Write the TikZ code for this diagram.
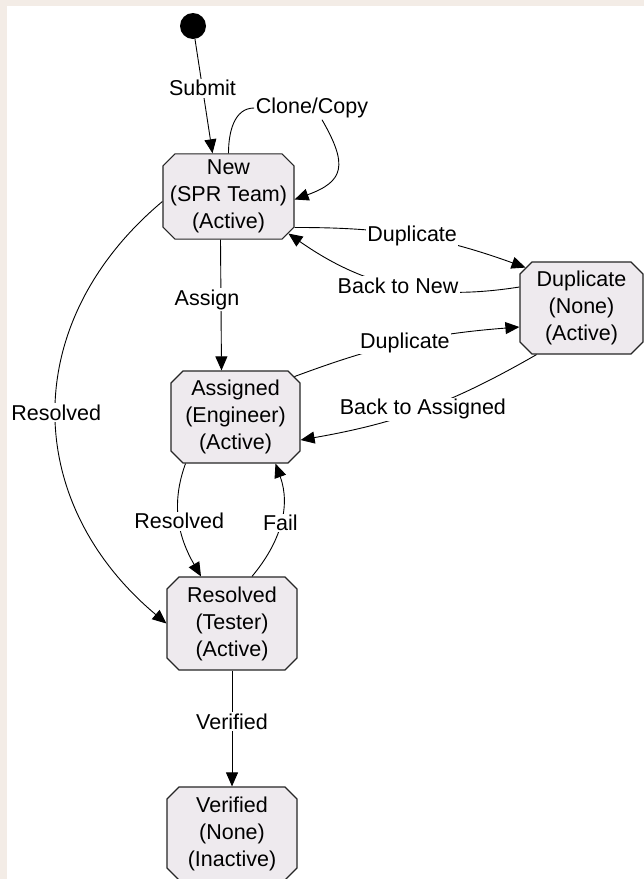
\documentclass[tikz,border=0pt]{standalone}
\usepackage{fontspec}
\setmainfont{Liberation Sans}
\usetikzlibrary{arrows.meta,shapes.misc,positioning}

\definecolor{framebg}{HTML}{F3ECE6}
\definecolor{statefill}{HTML}{EEEAEE}

\tikzset{
	state/.style={chamfered rectangle, chamfered rectangle xsep=6pt, chamfered rectangle ysep=6pt,
		draw=black!85, fill=statefill, line width=1.2pt, align=center, inner sep=0pt},
	trans/.style={-{Triangle[length=14pt,width=12pt]}, line width=0.9pt},
	lbl/.style={fill=white, inner sep=1.5pt}
}

\begin{document}
\begin{tikzpicture}[x=1pt, y=1pt, font=\fontsize{21.5}{27}\selectfont]

	% frame round the drawing
	\fill[framebg] (0,0) rectangle (644,-879);
	\fill[white] (7,-6) rectangle (644,-879);
	\useasboundingbox (0,0) rectangle (644,-879);
	
	\node[circle, fill=black, minimum size=26pt, inner sep=0pt] (init) at (193,-26) {};
	
	\foreach \name/\x/\y/\w/\h/\txt in {%draw the states
		new/228.5/-196.5/131/85/{New\\(SPR Team)\\(Active)},
		assigned/235.5/-417/129/92/{Assigned\\(Engineer)\\(Active)},
		resolved/232/-623.5/130/93/{Resolved\\(Tester)\\(Active)},
		verified/232/-833.5/130/93/{Verified\\(None)\\(Inactive)},
		duplicate/581.5/-308/123/92/{Duplicate\\(None)\\(Active)}}{
		\node[state, minimum width=\w pt, minimum height=\h pt] (\name) at (\x,\y) {\txt};
	}
	
	% transitions
	\draw[trans] ([xshift=2pt]init.south) -- node[lbl, pos=.43]{Submit} ([xshift=-16pt]new.north);
	
	\node[lbl] (clone) at (312,-108) {Clone/Copy};
	\draw[line width=0.9pt] (new.north) to[out=90, in=180] (clone.west);
	\draw[trans] ([xshift=10pt]clone.south) to[out=-60, in=20, looseness=1.6] ([yshift=-3pt]new.east);
	
	\draw[trans] ([yshift=-31pt]new.east) to[bend left=10] node[lbl]{Duplicate} (duplicate.north west);
	\draw[trans] ([yshift=21pt]duplicate.west) to[bend left=22] node[lbl]{Back to New} (new.south east);
	
	\draw[trans] ([xshift=-8pt]new.south) -- node[lbl, pos=.46, xshift=-14pt]{Assign} ([xshift=-14pt]assigned.north);
	
	\draw[trans] (assigned.north east) to[bend left=8] node[lbl]{Duplicate} ([yshift=-19pt]duplicate.west);
	\draw[trans] ([xshift=-45pt]duplicate.south) to[bend left=10] node[lbl]{Back to Assigned} ([yshift=-23pt]assigned.east);
	
	\draw[trans] ([yshift=-5pt]new.west) to[out=220, in=140, looseness=1.14] node[lbl]{Resolved} (resolved.west);
	\draw[trans] ([xshift=-50pt]assigned.south) to[out=250, in=120] node[lbl]{Resolved} ([xshift=-31pt]resolved.north);
	\draw[trans] ([xshift=20pt]resolved.north) to[out=50, in=-70] node[lbl]{Fail} ([xshift=40pt]assigned.south);
	
	\draw[trans] (resolved.south) -- node[lbl, pos=.44]{Verified} (verified.north);
	
\end{tikzpicture}
\end{document}
